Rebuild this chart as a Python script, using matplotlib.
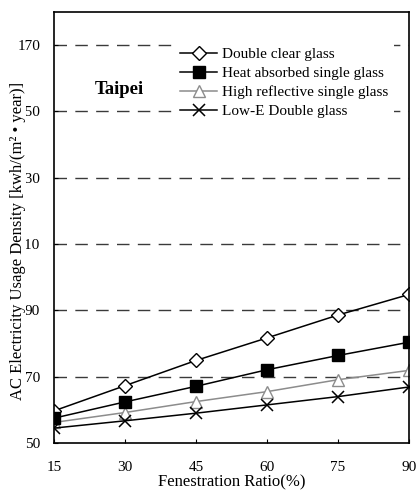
import matplotlib
matplotlib.use("Agg")
import matplotlib.pyplot as plt

plt.rcParams['font.family'] = ['Liberation Serif', 'DejaVu Serif']

ratio = [15, 30, 45, 60, 75, 90]
double_clear = [59.7, 67.3, 74.9, 81.7, 88.6, 94.8]
heat_absorbed = [57.5, 62.4, 67.1, 72.1, 76.4, 80.4]
high_reflective = [56.2, 59.2, 62.5, 65.5, 69.1, 71.9]
low_e = [54.5, 56.7, 59.0, 61.5, 64.0, 66.9]
y_ticks = [50, 70, 90, 110, 130, 150, 170]
x_ticks = [15, 30, 45, 60, 75, 90]

fig = plt.figure(figsize=(4.16, 4.98), dpi=100)
ax = fig.add_axes([0.1298, 0.1104, 0.8534, 0.8655])

ax.plot(ratio, double_clear, color='black', lw=1.1, marker='D', ms=7,
        mfc='white', mec='black', mew=1.0, label='Double clear glass', zorder=5)
ax.plot(ratio, heat_absorbed, color='black', lw=1.1, marker='s', ms=8,
        mfc='black', mec='black', label='Heat absorbed single glass', zorder=5)
ax.plot(ratio, high_reflective, color='#8c8c8c', lw=1.1, marker='^', ms=9,
        mfc='white', mec='#8c8c8c', mew=1.0, label='High reflective single glass', zorder=4)
ax.plot(ratio, low_e, color='black', lw=1.1, marker='x', ms=9, mew=1.1,
        label='Low-E Double glass', zorder=4)

for v in y_ticks[1:]:
    ax.axhline(v, color='#3a3a3a', lw=1.0, dashes=(9, 6), zorder=1)

ax.set_xlim(15, 90)
ax.set_ylim(50, 180)
ax.set_xticks(x_ticks)
ax.set_yticks(y_ticks)
ax.tick_params(axis='x', direction='in', length=3, pad=13, labelsize=11)
ax.tick_params(axis='y', direction='in', length=3, pad=10, labelsize=11)
for s in ax.spines.values():
    s.set_linewidth(1.2)
    s.set_zorder(6)

ax.set_xlabel('Fenestration Ratio(%)', fontsize=12, labelpad=0)
ylab = ax.set_ylabel('AC Electricity Usage Density [kwh/(m\u00b2 \u2022 year)]',
                     fontsize=12)
ylab.set_bbox(dict(facecolor='white', edgecolor='none', pad=0))
ax.yaxis.set_label_coords(-0.08, 0.47)

ax.text(0.115, 0.82, 'Taipei', transform=ax.transAxes, fontsize=13.5,
        fontweight='bold', ha='left', va='center')

leg = ax.legend(loc='upper left', bbox_to_anchor=(0.34, 0.93), fontsize=11,
                handlelength=2.45, handletextpad=0.3, labelspacing=0.35,
                borderpad=0.35, borderaxespad=0, frameon=True, fancybox=False,
                framealpha=1, edgecolor='none', facecolor='white')
leg.set_zorder(3)

fig.savefig('out.png', dpi=100)
